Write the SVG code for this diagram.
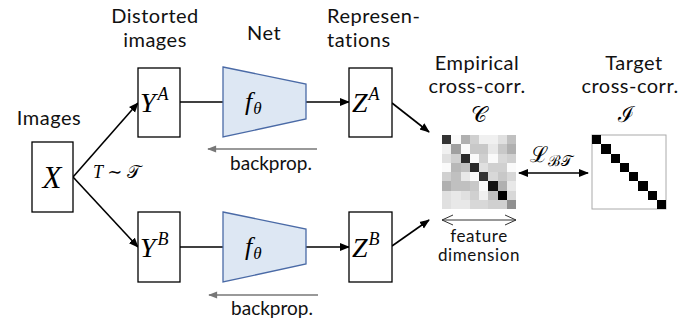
<svg xmlns="http://www.w3.org/2000/svg" width="695" height="322" viewBox="0 0 695 322">
<defs>
<marker id="ah" viewBox="0 0 10 10" refX="9" refY="5" markerWidth="10" markerHeight="10" markerUnits="userSpaceOnUse" orient="auto-start-reverse">
<path d="M0,1 L10,5 L0,9 Z" fill="#000"/>
</marker>
<marker id="ahg" viewBox="0 0 10 10" refX="9" refY="5" markerWidth="10" markerHeight="9" markerUnits="userSpaceOnUse" orient="auto">
<path d="M0,1 L10,5 L0,9 Z" fill="#777"/>
</marker>
<marker id="ahv" viewBox="0 0 12 12" refX="11" refY="6" markerWidth="12" markerHeight="12" markerUnits="userSpaceOnUse" orient="auto-start-reverse">
<path d="M0,1 L11,6 L0,11" fill="none" stroke="#333" stroke-width="1"/>
</marker>
</defs>
<style>
.lbl{font-family:Lato,"Liberation Sans",sans-serif;font-size:20px;letter-spacing:0.5px;fill:#111}
.sm{font-family:Lato,"Liberation Sans",sans-serif;font-size:19px;fill:#111}
.ft{font-family:Lato,"Liberation Sans",sans-serif;font-size:17px;letter-spacing:0.6px;fill:#111}
.m{font-family:"Liberation Serif","DejaVu Serif",serif;font-style:italic;fill:#000}
.s{font-family:"DejaVu Serif","Liberation Serif",serif;font-style:normal;fill:#000}
.box{fill:#fff;stroke:#000;stroke-width:1.3}
.net{fill:#dde7f3;stroke:#4a6aa6;stroke-width:1.3}
.c{stroke:#000;stroke-width:1.6;fill:none}
.bp{stroke:#777;stroke-width:1.3;fill:none}
</style>
<rect width="695" height="322" fill="#fff"/>

<g id="labels">
<text class="lbl" x="49" y="125" text-anchor="middle">Images</text>
<text class="lbl" x="155" y="23" text-anchor="middle">Distorted</text>
<text class="lbl" x="155" y="47" text-anchor="middle">images</text>
<text class="lbl" x="264" y="40" text-anchor="middle">Net</text>
<text class="lbl" x="327" y="23">Represen-</text>
<text class="lbl" x="327" y="47">tations</text>
<text class="lbl" x="477" y="70" text-anchor="middle">Empirical</text>
<text class="lbl" x="477" y="93" text-anchor="middle">cross-corr.</text>
<text class="lbl" x="634" y="70" text-anchor="middle">Target</text>
<text class="lbl" x="630" y="93" text-anchor="middle">cross-corr.</text>
<text class="s" x="479" y="122" font-size="22" text-anchor="middle">𝒞</text>
<text class="s" x="626" y="122" font-size="22" text-anchor="middle">ℐ</text>
</g>

<g id="connectors">
<line class="c" x1="73" y1="177" x2="138" y2="103" marker-end="url(#ah)"/>
<line class="c" x1="73" y1="177" x2="138" y2="247" marker-end="url(#ah)"/>
<line class="c" x1="180" y1="102" x2="223" y2="102"/>
<line class="c" x1="180" y1="247" x2="223" y2="247"/>
<line class="c" x1="306" y1="102" x2="349" y2="102" marker-end="url(#ah)"/>
<line class="c" x1="306" y1="247" x2="349" y2="247" marker-end="url(#ah)"/>
<line class="c" x1="392" y1="103" x2="429" y2="132" marker-end="url(#ah)"/>
<line class="c" x1="392" y1="246" x2="429" y2="220" marker-end="url(#ah)"/>
<line class="c" x1="519" y1="173" x2="588" y2="173" marker-start="url(#ah)" marker-end="url(#ah)"/>
<line class="bp" x1="317" y1="149" x2="208" y2="149" marker-end="url(#ahg)"/>
<line class="bp" x1="318" y1="295" x2="209" y2="295" marker-end="url(#ahg)"/>
<line x1="442" y1="220" x2="516" y2="220" stroke="#333" stroke-width="1" marker-start="url(#ahv)" marker-end="url(#ahv)"/>
<text class="m" x="93" y="178" font-size="18">T ∼ <tspan class="s">𝒯</tspan></text>
<text class="sm" x="271" y="170" text-anchor="middle">backprop.</text>
<text class="sm" x="272" y="315" text-anchor="middle">backprop.</text>
<text class="s" x="530" y="162" font-size="22">ℒ<tspan font-size="15" dy="4">ℬ𝒯</tspan></text>
<text class="ft" x="479" y="242" text-anchor="middle">feature</text>
<text class="ft" x="479" y="261" text-anchor="middle">dimension</text>
</g>

<g id="X">
<rect class="box" x="32" y="142" width="41" height="70"/>
<text class="m" x="52" y="188" font-size="31" text-anchor="middle">X</text>
</g>
<g id="YA">
<rect class="box" x="138" y="68" width="42" height="69"/>
<text class="m" x="140" y="112" font-size="28">Y<tspan font-size="18" dx="2" dy="-12">A</tspan></text>
</g>
<g id="YB">
<rect class="box" x="138" y="212" width="42" height="70"/>
<text class="m" x="140" y="257" font-size="28">Y<tspan font-size="18" dx="2" dy="-12">B</tspan></text>
</g>
<g id="netA">
<path class="net" d="M223,67 L306,84 L306,119 L223,137 Z"/>
<text class="m" x="245" y="110" font-size="26">f<tspan font-size="17" dx="1" dy="4">θ</tspan></text>
</g>
<g id="netB">
<path class="net" d="M223,212 L306,229 L306,264 L223,282 Z"/>
<text class="m" x="245" y="255" font-size="26">f<tspan font-size="17" dx="1" dy="4">θ</tspan></text>
</g>
<g id="ZA">
<rect class="box" x="349" y="68" width="43" height="69"/>
<text class="m" x="352" y="112" font-size="28">Z<tspan font-size="18" dx="1" dy="-12">A</tspan></text>
</g>
<g id="ZB">
<rect class="box" x="349" y="212" width="43" height="70"/>
<text class="m" x="352" y="257" font-size="28">Z<tspan font-size="18" dx="1" dy="-12">B</tspan></text>
</g>

<g id="C-matrix" transform="translate(442,135)">
<g shape-rendering="crispEdges">
<rect x="0" y="0" width="9.25" height="9.25" fill="#333"/><rect x="9.25" y="0" width="9.25" height="9.25" fill="#fafafa"/><rect x="18.5" y="0" width="9.25" height="9.25" fill="#b0b0b0"/><rect x="27.75" y="0" width="9.25" height="9.25" fill="#d0d0d0"/><rect x="37" y="0" width="9.25" height="9.25" fill="#f0f0f0"/><rect x="46.25" y="0" width="9.25" height="9.25" fill="#f0f0f0"/><rect x="55.5" y="0" width="9.25" height="9.25" fill="#e0e0e0"/><rect x="64.75" y="0" width="9.25" height="9.25" fill="#c0c0c0"/>
<rect x="0" y="9.25" width="9.25" height="9.25" fill="#f0f0f0"/><rect x="9.25" y="9.25" width="9.25" height="9.25" fill="#a0a0a0"/><rect x="18.5" y="9.25" width="9.25" height="9.25" fill="#fafafa"/><rect x="27.75" y="9.25" width="9.25" height="9.25" fill="#c8c8c8"/><rect x="37" y="9.25" width="9.25" height="9.25" fill="#c8c8c8"/><rect x="46.25" y="9.25" width="9.25" height="9.25" fill="#e8e8e8"/><rect x="55.5" y="9.25" width="9.25" height="9.25" fill="#c8c8c8"/><rect x="64.75" y="9.25" width="9.25" height="9.25" fill="#b0b0b0"/>
<rect x="0" y="18.5" width="9.25" height="9.25" fill="#e0e0e0"/><rect x="9.25" y="18.5" width="9.25" height="9.25" fill="#d0d0d0"/><rect x="18.5" y="18.5" width="9.25" height="9.25" fill="#2a2a2a"/><rect x="27.75" y="18.5" width="9.25" height="9.25" fill="#fafafa"/><rect x="37" y="18.5" width="9.25" height="9.25" fill="#d0d0d0"/><rect x="46.25" y="18.5" width="9.25" height="9.25" fill="#fafafa"/><rect x="55.5" y="18.5" width="9.25" height="9.25" fill="#d8d8d8"/><rect x="64.75" y="18.5" width="9.25" height="9.25" fill="#d0d0d0"/>
<rect x="0" y="27.75" width="9.25" height="9.25" fill="#fafafa"/><rect x="9.25" y="27.75" width="9.25" height="9.25" fill="#b8b8b8"/><rect x="18.5" y="27.75" width="9.25" height="9.25" fill="#c0c0c0"/><rect x="27.75" y="27.75" width="9.25" height="9.25" fill="#2a2a2a"/><rect x="37" y="27.75" width="9.25" height="9.25" fill="#e0e0e0"/><rect x="46.25" y="27.75" width="9.25" height="9.25" fill="#d0d0d0"/><rect x="55.5" y="27.75" width="9.25" height="9.25" fill="#d0d0d0"/><rect x="64.75" y="27.75" width="9.25" height="9.25" fill="#fafafa"/>
<rect x="0" y="37" width="9.25" height="9.25" fill="#d0d0d0"/><rect x="9.25" y="37" width="9.25" height="9.25" fill="#c0c0c0"/><rect x="18.5" y="37" width="9.25" height="9.25" fill="#e8e8e8"/><rect x="27.75" y="37" width="9.25" height="9.25" fill="#fafafa"/><rect x="37" y="37" width="9.25" height="9.25" fill="#333"/><rect x="46.25" y="37" width="9.25" height="9.25" fill="#d8d8d8"/><rect x="55.5" y="37" width="9.25" height="9.25" fill="#c8c8c8"/><rect x="64.75" y="37" width="9.25" height="9.25" fill="#d8d8d8"/>
<rect x="0" y="46.25" width="9.25" height="9.25" fill="#b0b0b0"/><rect x="9.25" y="46.25" width="9.25" height="9.25" fill="#c0c0c0"/><rect x="18.5" y="46.25" width="9.25" height="9.25" fill="#c0c0c0"/><rect x="27.75" y="46.25" width="9.25" height="9.25" fill="#c8c8c8"/><rect x="37" y="46.25" width="9.25" height="9.25" fill="#fafafa"/><rect x="46.25" y="46.25" width="9.25" height="9.25" fill="#111"/><rect x="55.5" y="46.25" width="9.25" height="9.25" fill="#b0b0b0"/><rect x="64.75" y="46.25" width="9.25" height="9.25" fill="#e8e8e8"/>
<rect x="0" y="55.5" width="9.25" height="9.25" fill="#e0e0e0"/><rect x="9.25" y="55.5" width="9.25" height="9.25" fill="#e8e8e8"/><rect x="18.5" y="55.5" width="9.25" height="9.25" fill="#e0e0e0"/><rect x="27.75" y="55.5" width="9.25" height="9.25" fill="#d0d0d0"/><rect x="37" y="55.5" width="9.25" height="9.25" fill="#f0f0f0"/><rect x="46.25" y="55.5" width="9.25" height="9.25" fill="#c0c0c0"/><rect x="55.5" y="55.5" width="9.25" height="9.25" fill="#000"/><rect x="64.75" y="55.5" width="9.25" height="9.25" fill="#d8d8d8"/>
<rect x="0" y="64.75" width="9.25" height="9.25" fill="#e0e0e0"/><rect x="9.25" y="64.75" width="9.25" height="9.25" fill="#e8e8e8"/><rect x="18.5" y="64.75" width="9.25" height="9.25" fill="#e8e8e8"/><rect x="27.75" y="64.75" width="9.25" height="9.25" fill="#d8d8d8"/><rect x="37" y="64.75" width="9.25" height="9.25" fill="#d8d8d8"/><rect x="46.25" y="64.75" width="9.25" height="9.25" fill="#d0d0d0"/><rect x="55.5" y="64.75" width="9.25" height="9.25" fill="#d0d0d0"/><rect x="64.75" y="64.75" width="9.25" height="9.25" fill="#909090"/>
</g>
</g>

<g id="I-matrix" transform="translate(592,135)">
<rect x="0" y="0" width="74" height="74" fill="#fff" stroke="#aaa" stroke-width="1"/>
<g fill="#000" shape-rendering="crispEdges">
<rect x="0" y="0" width="9.25" height="9.25"/><rect x="9.25" y="9.25" width="9.25" height="9.25"/><rect x="18.5" y="18.5" width="9.25" height="9.25"/><rect x="27.75" y="27.75" width="9.25" height="9.25"/><rect x="37" y="37" width="9.25" height="9.25"/><rect x="46.25" y="46.25" width="9.25" height="9.25"/><rect x="55.5" y="55.5" width="9.25" height="9.25"/><rect x="64.75" y="64.75" width="9.25" height="9.25"/>
</g>
</g>
</svg>
